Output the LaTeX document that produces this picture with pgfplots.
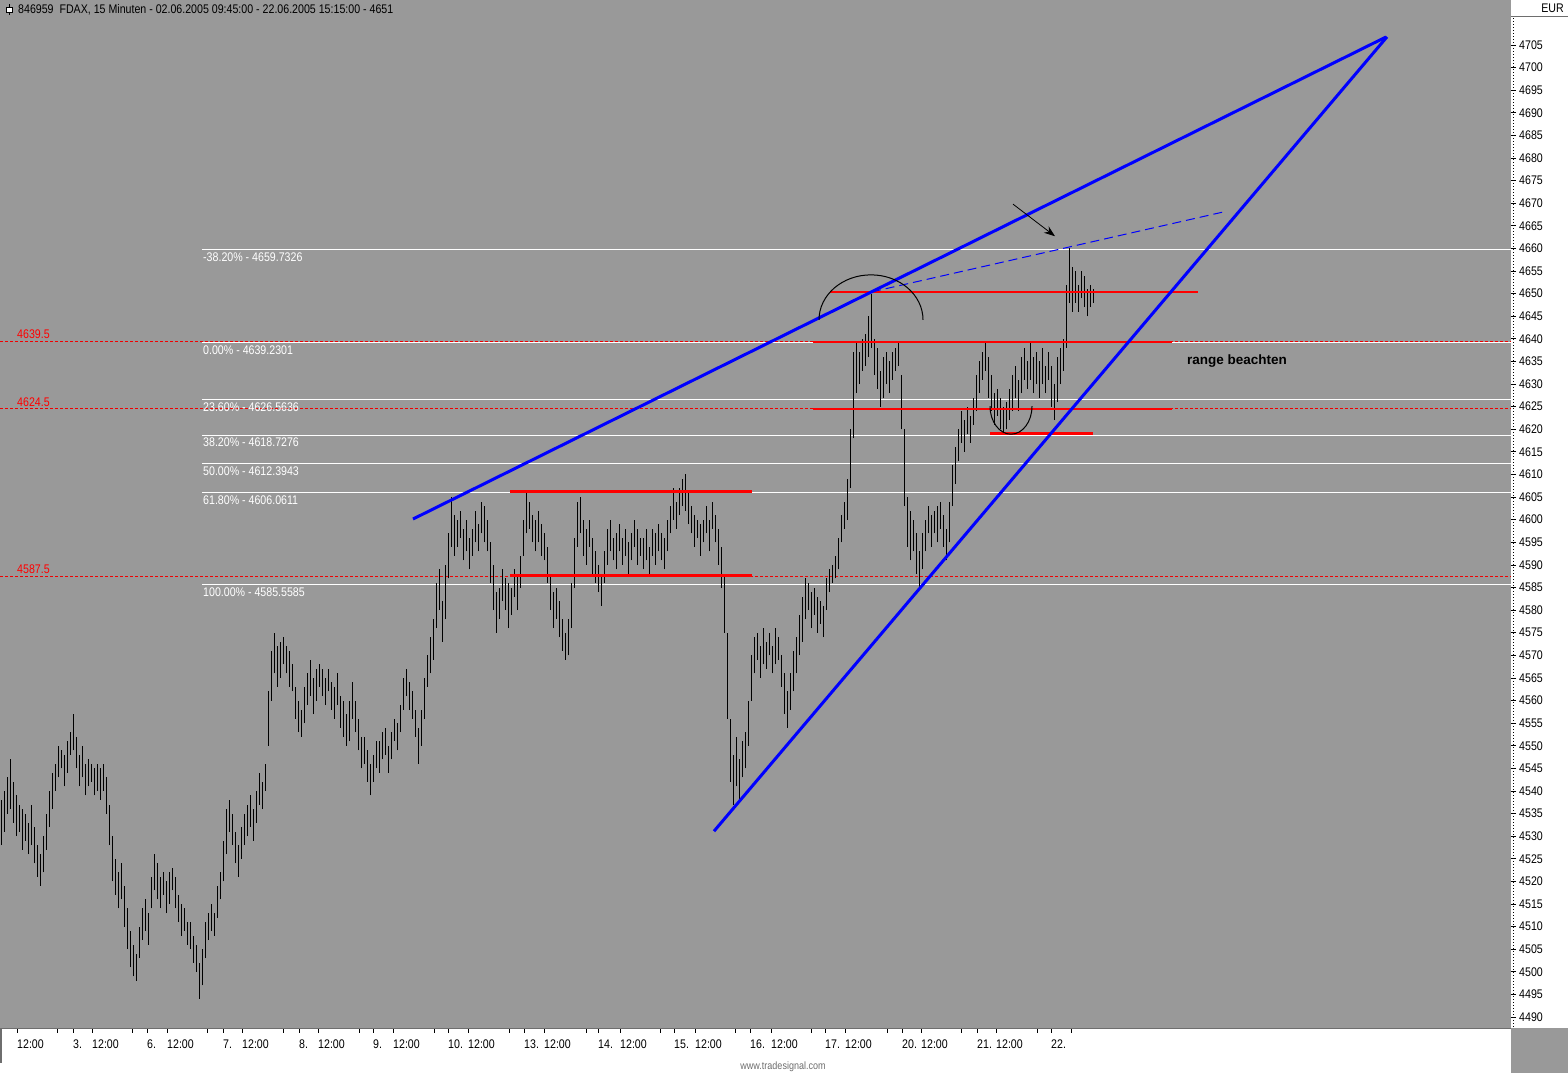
\documentclass[border=0pt]{standalone}
\usepackage{pgfplots}
\pgfplotsset{compat=1.18}
\usepackage{pgfplotstable}
\usetikzlibrary{arrows.meta}
\usepackage{fontspec}
\setmainfont{Liberation Sans}
\newfontfamily\tsfont[FakeStretch=0.85]{Liberation Sans}

\definecolor{chartbg}{RGB}{153,153,153}
\definecolor{tsblue}{RGB}{0,0,255}
\definecolor{tsred}{RGB}{255,0,0}
\definecolor{tsdash}{RGB}{240,0,0}
\definecolor{frame}{RGB}{110,110,110}

% 15-minute bars: x position, low, high
\pgfplotstableread[row sep=\\]{
x lo hi\\
1 4528 4538\\ 4 4531 4540\\ 7 4535 4543\\ 10 4536 4547\\ 13 4533 4542\\ 16 4530 4539\\
19 4531 4537\\ 22 4527 4536\\ 25 4529 4535\\ 28 4526 4533\\ 31 4528 4537\\ 34 4524 4532\\
37 4521 4528\\ 40 4519 4526\\ 43 4522 4530\\ 46 4527 4535\\ 49 4532 4540\\ 52 4536 4544\\
55 4540 4546\\ 58 4543 4550\\ 61 4545 4549\\ 64 4541 4548\\ 67 4544 4551\\ 70 4548 4553\\
73 4549 4557\\ 76 4545 4552\\ 79 4541 4548\\ 82 4543 4550\\ 85 4539 4546\\ 88 4541 4547\\
91 4542 4546\\ 94 4539 4545\\ 97 4540 4546\\ 100 4538 4545\\ 103 4540 4546\\ 106 4535 4543\\
109 4528 4537\\ 112 4520 4530\\ 115 4517 4525\\ 118 4514 4522\\ 121 4516 4524\\ 124 4510 4519\\
127 4505 4514\\ 130 4501 4509\\ 133 4499 4506\\ 136 4498 4504\\ 139 4503 4510\\ 142 4507 4514\\
145 4509 4516\\ 148 4506 4513\\ 151 4514 4521\\ 154 4518 4526\\ 157 4516 4524\\ 160 4514 4521\\
163 4517 4522\\ 166 4513 4520\\ 169 4515 4522\\ 172 4518 4523\\ 175 4514 4521\\ 178 4511 4517\\
181 4508 4515\\ 184 4509 4514\\ 187 4506 4511\\ 190 4505 4511\\ 193 4502 4508\\ 196 4500 4506\\
199 4494 4502\\ 202 4497 4505\\ 205 4503 4511\\ 208 4507 4513\\ 211 4509 4515\\ 214 4508 4513\\
217 4512 4519\\ 220 4516 4522\\ 223 4520 4529\\ 226 4526 4536\\ 229 4531 4538\\ 232 4528 4535\\
235 4524 4531\\ 238 4521 4528\\ 241 4525 4532\\ 244 4528 4535\\ 247 4530 4537\\ 250 4532 4539\\
253 4529 4536\\ 256 4533 4540\\ 259 4537 4544\\ 262 4536 4542\\ 265 4540 4546\\ 268 4550 4562\\
271 4560 4571\\ 274 4566 4575\\ 277 4563 4572\\ 280 4565 4573\\ 283 4568 4574\\ 286 4566 4572\\
289 4563 4571\\ 292 4562 4568\\ 295 4556 4563\\ 298 4553 4560\\ 301 4552 4558\\ 304 4555 4563\\
307 4559 4566\\ 310 4561 4569\\ 313 4557 4565\\ 316 4560 4567\\ 319 4563 4568\\ 322 4561 4567\\
325 4559 4565\\ 328 4562 4567\\ 331 4558 4564\\ 334 4556 4563\\ 337 4559 4566\\ 340 4554 4561\\
343 4552 4560\\ 346 4550 4557\\ 349 4551 4560\\ 352 4556 4564\\ 355 4553 4560\\ 358 4549 4556\\
361 4545 4552\\ 364 4546 4552\\ 367 4542 4549\\ 370 4539 4546\\ 373 4542 4548\\ 376 4545 4551\\
379 4544 4551\\ 382 4547 4553\\ 385 4548 4554\\ 388 4544 4550\\ 391 4547 4553\\ 394 4551 4556\\
397 4549 4555\\ 400 4553 4559\\ 403 4558 4565\\ 406 4561 4567\\ 409 4558 4564\\ 412 4556 4562\\
415 4552 4558\\ 418 4546 4554\\ 421 4550 4558\\ 424 4556 4565\\ 427 4563 4570\\ 430 4566 4574\\
433 4569 4578\\ 436 4576 4586\\ 439 4580 4589\\ 442 4573 4582\\ 445 4578 4590\\ 448 4587 4597\\
451 4594 4605\\ 454 4592 4601\\ 457 4594 4600\\ 460 4596 4602\\ 463 4591 4598\\ 466 4593 4600\\
469 4589 4596\\ 472 4592 4598\\ 475 4595 4602\\ 478 4593 4599\\ 481 4597 4604\\ 484 4595 4603\\
487 4593 4600\\ 490 4586 4595\\ 493 4580 4590\\ 496 4575 4584\\ 499 4578 4585\\ 502 4582 4589\\
505 4580 4587\\ 508 4576 4586\\ 511 4579 4585\\ 514 4583 4589\\ 517 4580 4588\\ 520 4585 4592\\
523 4592 4600\\ 526 4597 4606\\ 529 4598 4604\\ 532 4595 4601\\ 535 4593 4600\\ 538 4595 4602\\
541 4592 4599\\ 544 4591 4597\\ 547 4586 4594\\ 550 4580 4588\\ 553 4576 4584\\ 556 4578 4585\\
559 4574 4582\\ 562 4571 4578\\ 565 4569 4575\\ 568 4570 4578\\ 571 4576 4586\\ 574 4585 4596\\
577 4594 4604\\ 580 4597 4605\\ 583 4592 4600\\ 586 4590 4598\\ 589 4594 4600\\ 592 4588 4596\\
595 4586 4593\\ 598 4584 4590\\ 601 4581 4588\\ 604 4586 4593\\ 607 4590 4598\\ 610 4593 4600\\
613 4591 4596\\ 616 4589 4597\\ 619 4593 4599\\ 622 4590 4596\\ 625 4592 4598\\ 628 4588 4595\\
631 4591 4597\\ 634 4594 4600\\ 637 4590 4598\\ 640 4592 4596\\ 643 4589 4596\\ 646 4591 4598\\
649 4588 4594\\ 652 4592 4598\\ 655 4590 4597\\ 658 4593 4599\\ 661 4591 4597\\ 664 4589 4596\\
667 4593 4600\\ 670 4597 4603\\ 673 4600 4607\\ 676 4598 4604\\ 679 4601 4607\\ 682 4603 4609\\
685 4602 4610\\ 688 4599 4606\\ 691 4597 4603\\ 694 4594 4601\\ 697 4596 4600\\ 700 4592 4599\\
703 4595 4600\\ 706 4597 4603\\ 709 4593 4600\\ 712 4598 4604\\ 715 4595 4601\\ 718 4590 4598\\
721 4585 4594\\ 724 4575 4588\\ 727 4556 4575\\ 730 4542 4556\\ 733 4537 4548\\ 736 4541 4552\\
739 4538 4547\\ 742 4543 4551\\ 745 4545 4553\\ 748 4550 4560\\ 751 4560 4570\\ 754 4566 4574\\
757 4569 4575\\ 760 4565 4572\\ 763 4568 4576\\ 766 4567 4573\\ 769 4570 4575\\ 772 4566 4572\\
775 4568 4576\\ 778 4569 4574\\ 781 4563 4570\\ 784 4557 4566\\ 787 4554 4562\\ 790 4558 4566\\
793 4562 4571\\ 796 4566 4574\\ 799 4570 4579\\ 802 4573 4583\\ 805 4578 4587\\ 808 4580 4586\\
811 4576 4584\\ 814 4579 4585\\ 817 4575 4583\\ 820 4577 4582\\ 823 4574 4581\\ 826 4580 4587\\
829 4584 4589\\ 832 4586 4590\\ 835 4587 4592\\ 838 4589 4596\\ 841 4595 4601\\ 844 4598 4604\\
847 4600 4609\\ 850 4607 4620\\ 853 4618 4637\\ 856 4628 4639\\ 859 4630 4637\\ 862 4633 4640\\
865 4634 4641\\ 868 4636 4645\\ 871 4638 4650\\ 874 4632 4640\\ 877 4629 4638\\ 880 4625 4633\\
883 4627 4636\\ 886 4630 4637\\ 889 4628 4635\\ 892 4631 4637\\ 895 4633 4638\\ 898 4634 4639\\
901 4620 4632\\ 904 4603 4620\\ 907 4594 4605\\ 910 4591 4602\\ 913 4593 4600\\ 916 4588 4597\\
919 4585 4593\\ 922 4589 4597\\ 925 4593 4600\\ 928 4597 4603\\ 931 4594 4601\\ 934 4597 4602\\
937 4595 4603\\ 940 4598 4604\\ 943 4594 4601\\ 946 4591 4598\\ 949 4595 4604\\ 952 4603 4612\\
955 4608 4616\\ 958 4613 4620\\ 961 4617 4624\\ 964 4615 4622\\ 967 4619 4625\\ 970 4617 4623\\
973 4621 4627\\ 976 4624 4632\\ 979 4628 4635\\ 982 4631 4637\\ 985 4633 4639\\ 988 4627 4636\\
991 4624 4632\\ 994 4621 4628\\ 997 4623 4629\\ 1000 4620 4627\\ 1003 4619 4625\\ 1006 4620 4626\\
1009 4622 4629\\ 1012 4624 4632\\ 1015 4627 4634\\ 1018 4624 4631\\ 1021 4628 4636\\ 1024 4631 4638\\
1027 4629 4635\\ 1030 4631 4639\\ 1033 4628 4636\\ 1036 4630 4637\\ 1039 4627 4635\\ 1042 4630 4638\\
1045 4628 4634\\ 1048 4631 4637\\ 1051 4625 4634\\ 1054 4622 4630\\ 1057 4626 4636\\ 1060 4630 4638\\
1063 4633 4640\\ 1066 4638 4652\\ 1069 4648 4660\\ 1072 4646 4656\\ 1075 4648 4655\\ 1078 4646 4652\\
1081 4649 4655\\ 1084 4647 4654\\ 1087 4645 4651\\ 1090 4647 4652\\ 1093 4648 4651\\
}\bars

\begin{document}
\begin{tikzpicture}[x=1pt,y=1pt]
% page background and side panels
\fill[white] (0,0) rectangle (1568,1073);
\fill[chartbg] (1511,0) rectangle (1568,45);

\begin{axis}[
  at={(0pt,45pt)}, anchor=south west,
  scale only axis, width=1511pt, height=1028pt,
  xmin=0, xmax=1511, ymin=4487.567, ymax=4714.954,
  axis background/.style={fill=chartbg},
  axis x line*=bottom, axis y line*=right,
  axis line style={draw=none},
  tick align=outside,
  major tick length=5pt, minor tick length=5pt,
  tick style={black, line width=0.8pt},
  ytick={4490,4495,...,4705},
  yticklabel pos=right,
  yticklabel style={anchor=west, inner sep=0pt, xshift=3pt},
  xtick={17,73,92,147,167,223,242,299,318,373,393,448,468,524,544,598,620,674,695,750,771,825,845,902,921,977,996,1051},
  xticklabels={12:00,3.,12:00,6.,12:00,7.,12:00,8.,12:00,9.,12:00,10.,12:00,13.,12:00,14.,12:00,15.,12:00,16.,12:00,17.,12:00,20.,12:00,21.,12:00,22.},
  minor xtick={57,132,207,283,359,434,509,586,660,735,811,887,961,1037,1071},
  xticklabel style={anchor=north west, inner sep=0pt, yshift=-7pt, xshift=0pt},
  ticklabel style={font=\tsfont\fontsize{12.5}{14}\selectfont},
  /pgf/number format/assume math mode=true,
  /pgf/number format/.cd, fixed, 1000 sep={},
]
% fibonacci levels (white)
\foreach \lv in {4659.7326,4639.2301,4626.5636,4618.7276,4612.3943,4606.0611,4585.5585}{
  \edef\tmp{\noexpand\addplot[white, line width=1pt, forget plot] coordinates {(202,\lv) (1511,\lv)};}\tmp
}
% red dashed price marks
\foreach \lv in {4639.5,4624.5,4587.5}{
  \edef\tmp{\noexpand\addplot[tsdash, line width=1.1pt, dash pattern=on 3pt off 2pt, forget plot] coordinates {(0,\lv) (1511,\lv)};}\tmp
}

% price bars
\addplot[draw=none, forget plot,
  error bars/.cd, y dir=plus, y explicit, error mark=none,
  error bar style={draw=black, line width=0.95pt}]
  table[x=x, y=lo, y error expr=\thisrow{hi}-\thisrow{lo}] {\bars};

% red support / resistance lines
\addplot[tsred, line width=2pt] coordinates {(830,4650.3) (1198,4650.3)};
\addplot[tsred, line width=2.6pt] coordinates {(813,4639.3) (1172,4639.3)};
\addplot[tsred, line width=2.6pt] coordinates {(813,4624.5) (1172,4624.5)};
\addplot[tsred, line width=2.6pt] coordinates {(990,4619.0) (1093,4619.0)};
\addplot[tsred, line width=2.6pt] coordinates {(510,4606.3) (752,4606.3)};
\addplot[tsred, line width=2.6pt] coordinates {(510,4587.6) (752,4587.6)};

% blue trend lines
\addplot[tsblue, line width=3pt] coordinates {(413,4600.15) (1386,4706.77)};
\addplot[tsblue, line width=3pt] coordinates {(714,4531.1) (1387,4706.8)};
\addplot[tsblue, line width=1pt, dash pattern=on 9pt off 5pt] coordinates {(872,4650.4) (1224,4668.1)};

% annotations
\draw[black, line width=1pt] (axis cs:871,4644.2) ++(180:52pt and 45pt) arc[start angle=180, end angle=0, x radius=52pt, y radius=45pt];
\draw[black, line width=1pt] (axis cs:1011,4625.1) ++(180:21pt and 28pt) arc[start angle=180, end angle=360, x radius=21pt, y radius=28pt];
\draw[black, line width=0.8pt, -{Stealth[length=11pt, width=8pt]}] (axis cs:1013,4669.8) -- (axis cs:1055,4662.7);

\begin{scope}[every node/.style={inner sep=0pt, font=\tsfont\fontsize{12.5}{14}\selectfont}]
\node[anchor=north west, text=white] at (axis cs:203,4659.07) {-38.20\% - 4659.7326};
\node[anchor=north west, text=white] at (axis cs:203,4638.57) {0.00\% - 4639.2301};
\node[anchor=north west, text=white] at (axis cs:203,4625.90) {23.60\% - 4626.5636};
\node[anchor=north west, text=white] at (axis cs:203,4618.07) {38.20\% - 4618.7276};
\node[anchor=north west, text=white] at (axis cs:203,4611.73) {50.00\% - 4612.3943};
\node[anchor=north west, text=white] at (axis cs:203,4605.40) {61.80\% - 4606.0611};
\node[anchor=north west, text=white] at (axis cs:203,4584.90) {100.00\% - 4585.5585};
\node[anchor=south west, text=tsred] at (axis cs:17,4639.95) {4639.5};
\node[anchor=south west, text=tsred] at (axis cs:17,4624.95) {4624.5};
\node[anchor=south west, text=tsred] at (axis cs:17,4587.95) {4587.5};
\end{scope}
\node[anchor=base west, inner sep=0pt, font=\bfseries\fontsize{13.5}{15}\selectfont] at (axis cs:1187,4634.4) {range beachten};
\end{axis}

% header, EUR box, frame details
\draw[black, fill=white, line width=0.8pt] (6.5,1060.5) rectangle (12.5,1065.5);
\draw[black, line width=0.8pt] (9.5,1065.5) -- (9.5,1068.5) (9.5,1060.5) -- (9.5,1057.5);
\node[anchor=west, inner sep=0pt, font=\tsfont\fontsize{12.5}{14}\selectfont] at (18,1063) {846959\ \ FDAX, 15 Minuten - 02.06.2005 09:45:00 - 22.06.2005 15:15:00 - 4651};
\fill[white] (1511,1057) rectangle (1568,1073);
\draw[frame, line width=1pt] (1511,1056.5) -- (1568,1056.5);
\node[anchor=east, inner sep=0pt, font=\tsfont\fontsize{12.5}{14}\selectfont] at (1564,1065) {EUR};
\draw[black, line width=1pt, dash pattern=on 1pt off 2pt] (1513,46) -- (1513,1055);
\draw[frame, line width=1.5pt] (0,44.25) -- (1511,44.25);
\draw[frame, line width=1.5pt] (1,44) -- (1,10);
\node[inner sep=0pt, text=frame, font=\tsfont\fontsize{10.6}{12}\selectfont] at (783,6) {www.tradesignal.com};

\pgfresetboundingbox
\useasboundingbox (0,0) rectangle (1568,1073);
\end{tikzpicture}
\end{document}
